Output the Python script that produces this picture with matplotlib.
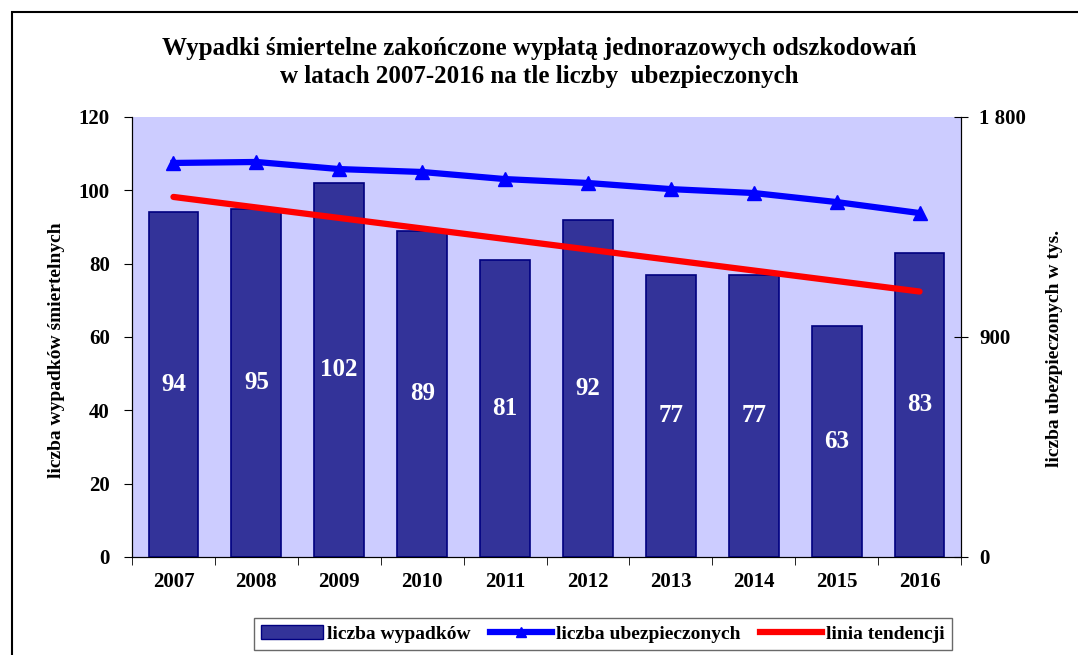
import numpy as np
import matplotlib.pyplot as plt
from matplotlib.lines import Line2D
from matplotlib.patches import Patch, Rectangle

years = ['2007', '2008', '2009', '2010', '2011', '2012', '2013', '2014', '2015', '2016']
wypadki = [94, 95, 102, 89, 81, 92, 77, 77, 63, 83]
ubezpieczeni = [1612, 1616, 1587, 1575, 1546, 1530, 1505, 1489, 1452, 1407]
# linia tendencji (poczatek 2007, koniec 2016)
trend_years = ['2007', '2016']
trend_vals = [98.2, 72.4]

plt.rcParams['font.family'] = ['Liberation Serif', 'DejaVu Serif']
plt.rcParams['font.weight'] = 'bold'

fig = plt.figure(figsize=(10.78, 6.55), dpi=100)
ax = fig.add_axes([132 / 1078, 1 - 557 / 655, (961 - 132) / 1078, (557 - 117) / 655])
ax.set_facecolor('#CCCCFF')

x = np.arange(len(years))
bars = ax.bar(x, wypadki, width=0.6, color='#333399', edgecolor='#000080', linewidth=1.2, zorder=2)
for xi, v in zip(x, wypadki):
    ax.text(xi, v / 2, str(v), color='white', fontsize=18, fontweight='bold',
            ha='center', va='center', zorder=5)

ax.set_xlim(-0.5, len(years) - 0.5)
ax.set_ylim(0, 120)
ax.set_yticks(range(0, 121, 20))
ax.set_xticks(x)
ax.set_xticklabels(years, fontsize=15, fontweight='bold')
ax.set_xticks(np.arange(-0.5, len(years), 1), minor=True)
ax.tick_params(axis='x', which='major', length=0, pad=11)
ax.tick_params(axis='x', which='minor', length=6, direction='out')
ax.tick_params(axis='y', length=6, direction='out', labelsize=15, pad=10)
for lbl in ax.get_yticklabels():
    lbl.set_fontweight('bold')
ax.set_ylabel('liczba wypadków śmiertelnych', fontsize=14, fontweight='bold')
ax.yaxis.set_label_coords(-0.081, 0.47)
ax.spines['top'].set_visible(False)

idx = [years.index(y) for y in trend_years]
ax.plot(idx, trend_vals, color='#FF0000', linewidth=4.5, solid_capstyle='round', zorder=3)

ax2 = ax.twinx()
ax2.set_ylim(0, 1800)
ax2.set_yticks([0, 900, 1800])
ax2.set_yticklabels(['0', '900', '1 800'])
ax2.plot(x, ubezpieczeni, color='#0000FF', linewidth=4.5, marker='^', markersize=10, zorder=4)
ax2.tick_params(axis='y', length=10, direction='inout', labelsize=15, pad=8)
for lbl in ax2.get_yticklabels():
    lbl.set_fontweight('bold')
ax2.set_ylabel('liczba ubezpieczonych w tys.', fontsize=14, fontweight='bold')
ax2.yaxis.set_label_coords(1.102, 0.475)
ax2.spines['top'].set_visible(False)

fig.text(0.5, 1 - 48 / 655, 'Wypadki śmiertelne zakończone wypłatą jednorazowych odszkodowań',
         ha='center', va='center', fontsize=18, fontweight='bold')
fig.text(0.5, 1 - 76 / 655, 'w latach 2007-2016 na tle liczby  ubezpieczonych',
         ha='center', va='center', fontsize=18, fontweight='bold')

handles = [Patch(facecolor='#333399', edgecolor='#000080'),
           Line2D([], [], color='#0000FF', linewidth=4.5, marker='^', markersize=7),
           Line2D([], [], color='#FF0000', linewidth=4.5)]
labels = ['liczba wypadków', 'liczba ubezpieczonych', 'linia tendencji']
leg = fig.legend(handles, labels, loc='center', bbox_to_anchor=(603 / 1078, 1 - 634 / 655),
                 ncol=3, frameon=True, fancybox=False, edgecolor='#444444', fontsize=14,
                 handlelength=3.2, handletextpad=0.2, columnspacing=1.0, borderpad=0.35)
for t in leg.get_texts():
    t.set_fontweight('bold')

fig.patches.append(Rectangle((12 / 1078, -0.1), 1.2, 1 - 12 / 655 + 0.1, transform=fig.transFigure,
                             fill=False, edgecolor='black', linewidth=1.5))

fig.savefig('out.png', dpi=100)
